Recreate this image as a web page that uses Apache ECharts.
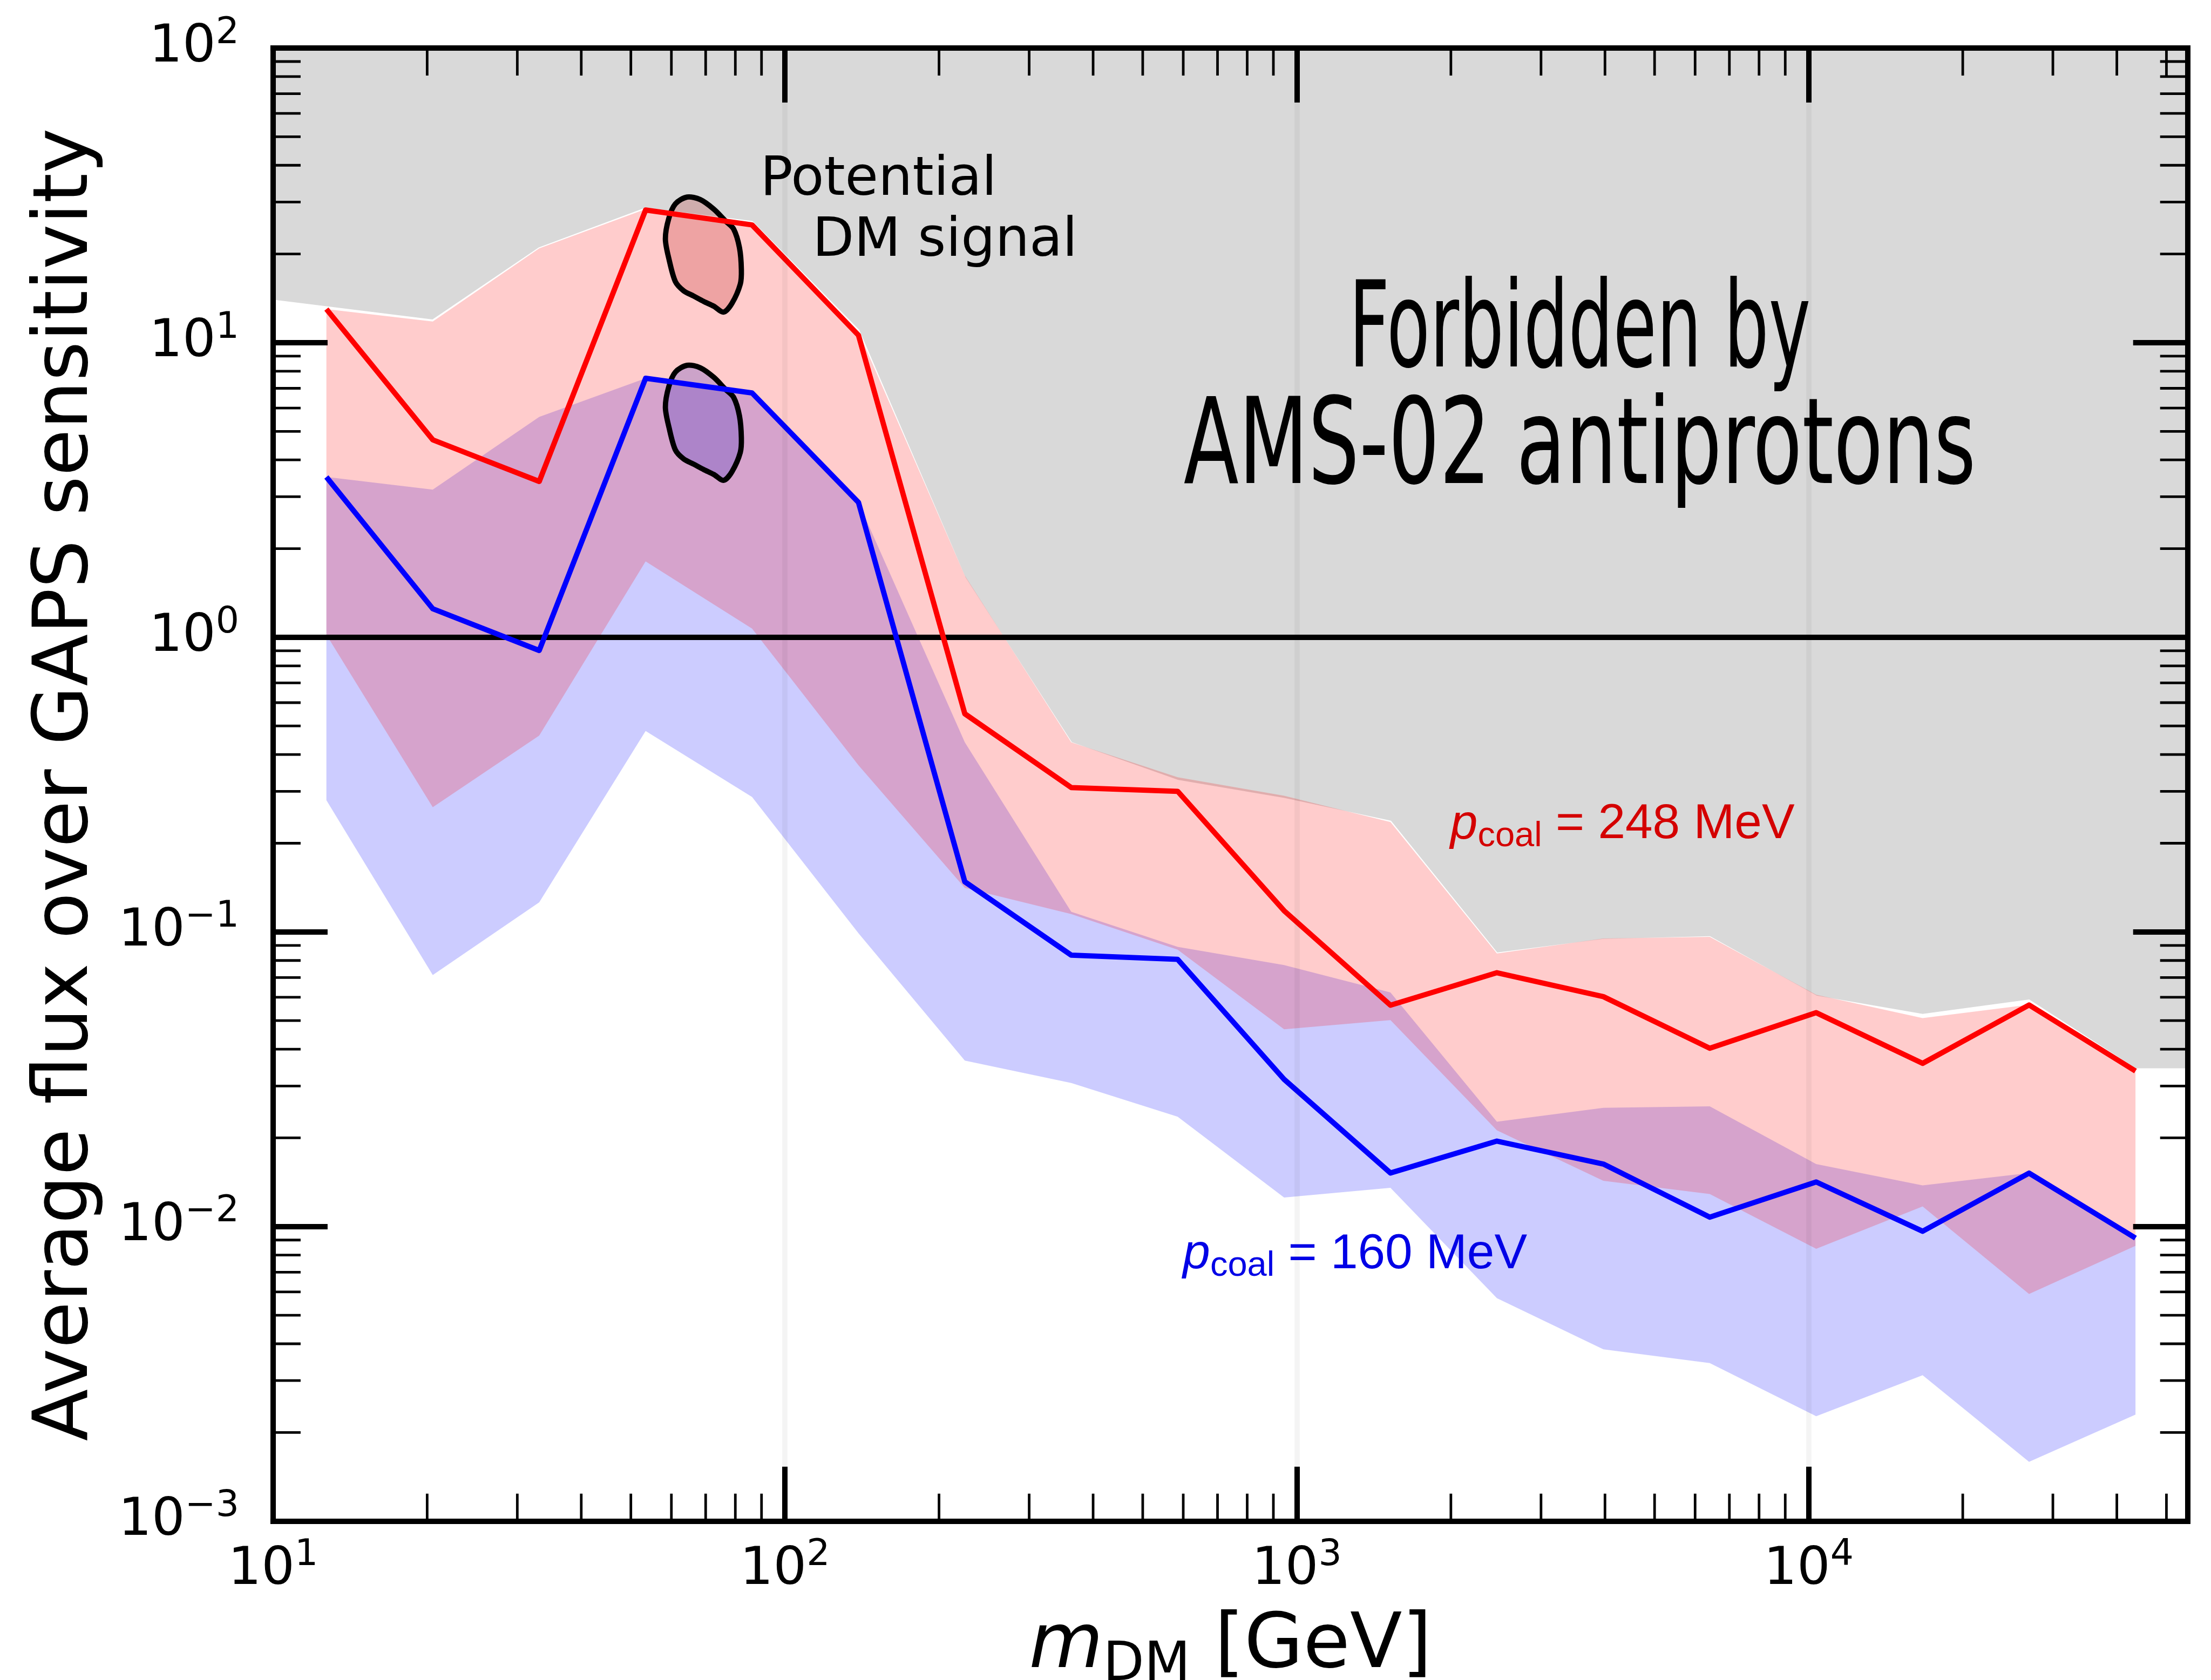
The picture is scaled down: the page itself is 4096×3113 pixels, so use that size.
<!DOCTYPE html>
<html>
<head>
<meta charset="utf-8">
<title>Average flux over GAPS sensitivity</title>
<script src="https://cdn.jsdelivr.net/npm/echarts@6/dist/echarts.min.js"></script>
<style>
  html, body { margin: 0; padding: 0; background: #ffffff; }
  #chart { width: 4096px; height: 3113px; }
</style>
</head>
<body>
<div id="chart"></div>
<script>
// ---- axis ranges ----
const X_MIN = 10, X_MAX = 55000;
const Y_MIN = 1e-3, Y_MAX = 100;

// ---- dark-matter masses [GeV] ----
const massGeV = [12.71, 20.51, 33.11, 53.43, 86.24, 139.2, 224.6, 362.5, 585.1,
                 944.5, 1524, 2460, 3971, 6409, 10345, 16697, 26950, 43500];

// ---- p_coal = 248 MeV: central curve and band ----
const flux248 = [13.0, 4.68, 3.38, 28.2, 25.1, 10.6, 0.550, 0.309, 0.300,
                 0.118, 0.0564, 0.0727, 0.0603, 0.0403, 0.0532, 0.0358, 0.0565, 0.0337];
const band248High = [13.0, 11.8, 20.9, 28.4, 25.6, 10.9, 1.62, 0.44, 0.335,
                     0.29, 0.236, 0.0845, 0.095, 0.0962, 0.0612, 0.0510, 0.0566, 0.0337];
const band248Low = [1.02, 0.265, 0.464, 1.81, 1.07, 0.368, 0.141, 0.115, 0.087,
                    0.0467, 0.0502, 0.0212, 0.0143, 0.0129, 0.0084, 0.0117, 0.0059, 0.0086];

// ---- p_coal = 160 MeV: central curve and band ----
const flux160 = [3.50, 1.25, 0.902, 7.57, 6.75, 2.87, 0.148, 0.0834, 0.0807,
                 0.0316, 0.0152, 0.0195, 0.0163, 0.01076, 0.01417, 0.00964, 0.01518, 0.00914];
const band160High = [3.50, 3.17, 5.60, 7.57, 6.75, 2.87, 0.44, 0.117, 0.089,
                     0.0772, 0.0623, 0.0227, 0.0253, 0.0256, 0.0163, 0.0138, 0.0152, 0.0091];
const band160Low = [0.280, 0.0714, 0.126, 0.481, 0.287, 0.099, 0.0366, 0.0307, 0.0236,
                    0.01255, 0.01354, 0.00571, 0.00383, 0.00344, 0.00227, 0.00313, 0.00159, 0.0023];

// ---- AMS-02 antiproton exclusion boundary ----
const amsMass = [X_MIN, 12.71, 20.51, 33.11, 53.43, 86.24, 139.2, 224.6, 362.5, 585.1,
                 944.5, 1524, 2460, 3971, 6409, 10345, 16697, 26950, 43500, X_MAX];
const amsLimit = [13.9, 13.2, 11.9, 20.9, 28.5, 25.7, 11.0, 1.59, 0.438, 0.326,
                  0.283, 0.237, 0.0845, 0.094, 0.096, 0.0604, 0.0523, 0.0585, 0.0342, 0.0342];

// ---- potential DM signal contour (antiproton-excess region) ----
const signalMass = [64.4, 68.3, 72.6, 76.5, 79.4, 81.5, 82.2, 81.8, 78.8, 75.9,
                    72.6, 69.4, 66.3, 63.4, 61.1, 59.4, 58.4, 59.3, 61.1];
const signal248 = [31.2, 30.6, 28.4, 25.9, 24.3, 21.0, 17.7, 15.8, 13.6, 12.7,
                   13.3, 13.8, 14.4, 15.0, 16.1, 19.1, 22.5, 26.4, 29.6];
const signal160 = [8.38, 8.22, 7.63, 6.95, 6.52, 5.64, 4.75, 4.24, 3.65, 3.41,
                   3.57, 3.71, 3.87, 4.03, 4.32, 5.13, 6.04, 7.09, 7.95];

// ---- tick labels (powers of ten) and minor-tick mantissas ----
const xTickPowers = [1, 2, 3, 4];
const yTickPowers = [-3, -2, -1, 0, 1, 2];
const minorMantissa = [2, 3, 4, 5, 6, 7, 8, 9];

// ---- styling ----
const FONT = 'DejaVu Sans';
const FRAME_W = 10;
const LINE_W = 9.8;

const chart = echarts.init(document.getElementById('chart'), null, { renderer: 'canvas', devicePixelRatio: 1 });

function powLabel(v) {
  const e = Math.round(Math.log10(v));
  if (Math.abs(v / Math.pow(10, e) - 1) > 1e-6) return '';
  if (xTickPowers.indexOf(e) < 0 && yTickPowers.indexOf(e) < 0) return '';
  return '{b|10}{s|' + (e < 0 ? '\u2212' + (-e) : String(e)) + '}';
}
const tickRich = {
  b: { fontFamily: FONT, fontSize: 97, lineHeight: 122, color: '#000' },
  s: { fontFamily: FONT, fontSize: 68, verticalAlign: 'top', color: '#000' }
};

function frameAxis(position, withLabels, extra) {
  return Object.assign({
    type: 'log', logBase: 10, position: position, z: 10,
    axisLine: { show: true, onZero: false, lineStyle: { color: '#000', width: FRAME_W, cap: 'square' } },
    axisTick: { show: true, inside: true, length: 101, lineStyle: { color: '#000', width: FRAME_W } },
    axisLabel: withLabels ? { show: true, formatter: powLabel, rich: tickRich } : { show: false },
    splitLine: { show: false },
    minorTick: { show: false },
    minorSplitLine: { show: false }
  }, extra);
}

// band between two curves, as one filled polygon
function bandItem(low, high, fill) {
  return function (params, api) {
    if (params.dataIndex !== 0) return null;
    const pts = [];
    for (let i = 0; i < massGeV.length; i++) pts.push(api.coord([massGeV[i], high[i]]));
    for (let i = massGeV.length - 1; i >= 0; i--) pts.push(api.coord([massGeV[i], low[i]]));
    return { type: 'polygon', silent: true, shape: { points: pts }, style: { fill: fill } };
  };
}

function contourShape(api, values, fill) {
  const pts = signalMass.map((m, i) => api.coord([m, values[i]]));
  return {
    type: 'polygon', silent: true,
    shape: { points: pts, smooth: 0.3 },
    style: { fill: fill, stroke: '#000', lineWidth: LINE_W, lineJoin: 'round' }
  };
}

const option = {
  animation: false,
  backgroundColor: '#ffffff',
  grid: { left: 505.9, top: 89.0, width: 3546.8, height: 2729.7, containLabel: false, outerBoundsMode: 'none', show: false },
  xAxis: [
    frameAxis('bottom', true, {
      min: X_MIN, max: X_MAX,
      axisLabel: { show: true, margin: 30, formatter: powLabel, rich: tickRich },
      splitLine: { show: true, lineStyle: { color: 'rgba(0,0,0,0.045)', width: 9.7 } },
      name: '{i|m}{d|DM}{n| [GeV]}', nameLocation: 'middle', nameGap: 234, nameMoveOverlap: false,
      nameTextStyle: {
        align: 'center', verticalAlign: 'middle',
        rich: {
          i: { fontFamily: FONT, fontStyle: 'italic', fontSize: 141, lineHeight: 169, color: '#000' },
          d: { fontFamily: FONT, fontSize: 99, verticalAlign: 'bottom', color: '#000' },
          n: { fontFamily: FONT, fontSize: 141, color: '#000' }
        }
      }
    }),
    frameAxis('top', false, { min: X_MIN, max: X_MAX })
  ],
  yAxis: [
    frameAxis('left', true, {
      min: Y_MIN, max: Y_MAX,
      axisLabel: { show: true, margin: 63, formatter: powLabel, rich: tickRich },
      name: 'Average flux over GAPS sensitivity', nameLocation: 'middle', nameGap: 382, nameMoveOverlap: false,
      nameTextStyle: { fontFamily: FONT, fontSize: 141, color: '#000', align: 'center', verticalAlign: 'middle' }
    }),
    frameAxis('right', false, { min: Y_MIN, max: Y_MAX })
  ],
  series: [
    {
      // region excluded by AMS-02 antiprotons
      type: 'custom', name: 'AMS-02', z: 1, xAxisIndex: 0, yAxisIndex: 0,
      data: amsMass.map((m, i) => [m, amsLimit[i]]),
      renderItem: function (params, api) {
        if (params.dataIndex !== 0) return null;
        const edge = amsMass.map((m, i) => api.coord([m, amsLimit[i]]));
        const poly = edge.concat([api.coord([X_MAX, Y_MAX]), api.coord([X_MIN, Y_MAX])]);
        return {
          type: 'group', children: [
            { type: 'polygon', silent: true, shape: { points: poly }, style: { fill: '#d9d9d9' } },
            { type: 'polyline', silent: true, shape: { points: edge }, style: { stroke: '#ffffff', lineWidth: 3.5, fill: null } }
          ]
        };
      }
    },
    {
      type: 'custom', name: 'band160', z: 2, xAxisIndex: 0, yAxisIndex: 0,
      data: massGeV.map((m, i) => [m, band160Low[i], band160High[i]]),
      encode: { x: 0, y: [1, 2] },
      renderItem: bandItem(band160Low, band160High, 'rgba(0,0,255,0.2)')
    },
    {
      type: 'custom', name: 'band248', z: 3, xAxisIndex: 0, yAxisIndex: 0,
      data: massGeV.map((m, i) => [m, band248Low[i], band248High[i]]),
      encode: { x: 0, y: [1, 2] },
      renderItem: bandItem(band248Low, band248High, 'rgba(255,0,0,0.2)')
    },
    {
      type: 'custom', name: 'signal', z: 4, xAxisIndex: 0, yAxisIndex: 0,
      data: signalMass.map((m, i) => [m, signal160[i], signal248[i]]),
      encode: { x: 0, y: [1, 2] },
      renderItem: function (params, api) {
        if (params.dataIndex !== 0) return null;
        return {
          type: 'group', children: [
            contourShape(api, signal248, 'rgba(170,0,0,0.2)'),
            contourShape(api, signal160, 'rgba(50,40,190,0.25)')
          ]
        };
      }
    },
    {
      // unit-flux reference line
      type: 'line', name: 'unity', z: 5, xAxisIndex: 0, yAxisIndex: 0, data: [],
      markLine: {
        silent: true, symbol: ['none', 'none'], label: { show: false },
        lineStyle: { color: '#000', width: FRAME_W, type: 'solid' },
        emphasis: { disabled: true },
        data: [{ yAxis: 1 }]
      }
    },
    {
      type: 'line', name: 'p_coal = 160 MeV', z: 6, xAxisIndex: 0, yAxisIndex: 0,
      data: massGeV.map((m, i) => [m, flux160[i]]),
      symbol: 'none', showSymbol: false, clip: true,
      lineStyle: { color: '#0000ff', width: LINE_W, join: 'round', cap: 'butt' }
    },
    {
      type: 'line', name: 'p_coal = 248 MeV', z: 7, xAxisIndex: 0, yAxisIndex: 0,
      data: massGeV.map((m, i) => [m, flux248[i]]),
      symbol: 'none', showSymbol: false, clip: true,
      lineStyle: { color: '#ff0000', width: LINE_W, join: 'round', cap: 'butt' }
    },
    {
      // minor ticks (2..9 x 10^k) on all four frame sides
      type: 'custom', name: 'minorTicks', z: 9, xAxisIndex: 0, yAxisIndex: 0,
      data: [[X_MIN, Y_MIN]],
      renderItem: function (params, api) {
        const cs = params.coordSys;
        const L = 51, W = 4.8;
        const kids = [];
        const bottom = cs.y + cs.height, top = cs.y, left = cs.x, right = cs.x + cs.width;
        xTickPowers.forEach(k => {
          minorMantissa.forEach(d => {
            const v = d * Math.pow(10, k);
            if (v >= X_MAX) return;
            const px = api.coord([v, 1])[0];
            kids.push({ type: 'line', silent: true, shape: { x1: px, y1: bottom, x2: px, y2: bottom - L }, style: { stroke: '#000', lineWidth: W } });
            kids.push({ type: 'line', silent: true, shape: { x1: px, y1: top, x2: px, y2: top + L }, style: { stroke: '#000', lineWidth: W } });
          });
        });
        yTickPowers.forEach(k => {
          minorMantissa.forEach(d => {
            const v = d * Math.pow(10, k);
            if (v >= Y_MAX) return;
            const py = api.coord([100, v])[1];
            kids.push({ type: 'line', silent: true, shape: { x1: left, y1: py, x2: left + L, y2: py }, style: { stroke: '#000', lineWidth: W } });
            kids.push({ type: 'line', silent: true, shape: { x1: right, y1: py, x2: right - L, y2: py }, style: { stroke: '#000', lineWidth: W } });
          });
        });
        return { type: 'group', children: kids };
      }
    }
  ]
};

chart.setOption(option);

// ---- annotations placed through the axes' scales ----
const toPx = (m, v) => chart.convertToPixel({ xAxisIndex: 0, yAxisIndex: 0 }, [m, v]);

const HAND_FAMILY = '"Liberation Sans Narrow", "DejaVu Sans Condensed", "Liberation Sans", sans-serif';
const HAND_SIZE = 221;
function widthOf(text, size, family) {
  const ctx = document.createElement('canvas').getContext('2d');
  ctx.font = size + 'px ' + family;
  return ctx.measureText(text).width;
}
function handText(text, centerMass, midValue, fromMass, toMass) {
  const c = toPx(centerMass, midValue);
  const target = toPx(toMass, midValue)[0] - toPx(fromMass, midValue)[0];
  const sx = target / widthOf(text, HAND_SIZE, HAND_FAMILY);
  return {
    type: 'text', x: c[0], y: c[1], scaleX: sx, z: 30, silent: true,
    style: { text: text, fontFamily: HAND_FAMILY, fontSize: HAND_SIZE, fill: '#000', align: 'center', verticalAlign: 'middle' }
  };
}
function coalLabel(value, color, mass, flux) {
  const p = toPx(mass, flux);
  return {
    type: 'text', x: p[0], y: p[1], z: 30, silent: true,
    style: {
      text: '{p|p}{c|coal}{t| = ' + value + ' MeV}',
      align: 'left', verticalAlign: 'middle',
      rich: {
        p: { fontFamily: 'Liberation Sans', fontStyle: 'italic', fontSize: 91, lineHeight: 109, fill: color },
        c: { fontFamily: 'Liberation Sans', fontSize: 65, verticalAlign: 'bottom', fill: color },
        t: { fontFamily: 'Liberation Sans', fontSize: 91, fill: color }
      }
    }
  };
}
const potPos = toPx(89.5, 35.5);
const dmPos = toPx(113.2, 22.0);

chart.setOption({
  graphic: [
    { type: 'text', x: potPos[0], y: potPos[1], z: 30, silent: true,
      style: { text: 'Potential', fontFamily: FONT, fontSize: 100, fill: '#000', align: 'left', verticalAlign: 'middle' } },
    { type: 'text', x: dmPos[0], y: dmPos[1], z: 30, silent: true,
      style: { text: 'DM signal', fontFamily: FONT, fontSize: 100, fill: '#000', align: 'left', verticalAlign: 'middle' } },
    handText('Forbidden by', 3571, 10.57, 1267, 10107),
    handText('AMS-02 antiprotons', 3571, 4.25, 599, 21150),
    coalLabel('248', '#d40000', 1995, 0.2310),
    coalLabel('160', '#0000e6', 599, 0.00804)
  ]
});
</script>
</body>
</html>
